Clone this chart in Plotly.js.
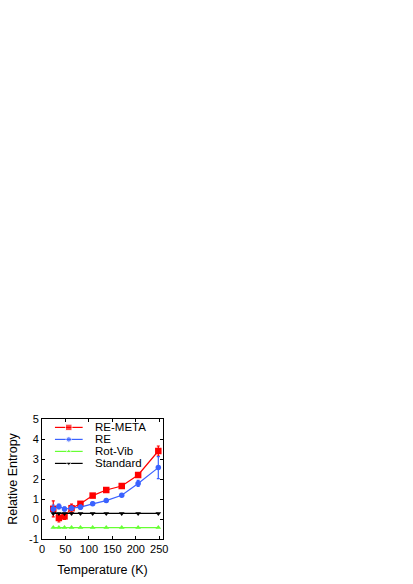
<!DOCTYPE html>
<html>
<head>
<meta charset="utf-8">
<script src="https://cdn.plot.ly/plotly-3.0.1.min.js"></script>
<style>html,body{margin:0;padding:0;background:#fff;}#chart{width:413px;height:584px;}</style>
</head>
<body>
<div id="chart"></div>
<script>
// ---- data ----
const temperature = [24, 36, 48, 63, 82, 108, 137, 170, 205, 248];
const reMeta      = [0.51, 0.05, 0.13, 0.54, 0.76, 1.17, 1.45, 1.65, 2.20, 3.40];
const reMetaErr   = [0.40, 0.20, 0.15, 0.20, 0.08, 0.05, 0.05, 0.05, 0.10, 0.25];
const re          = [0.50, 0.63, 0.50, 0.54, 0.59, 0.76, 0.92, 1.19, 1.78, 2.57];
const reErr       = [0.20, 0.12, 0.10, 0.10, 0.10, 0.08, 0.06, 0.06, 0.15, 0.55];
const rotVib      = [-0.43, -0.43, -0.43, -0.43, -0.43, -0.43, -0.43, -0.43, -0.43, -0.43];
const standard    = [0.28, 0.28, 0.28, 0.28, 0.28, 0.28, 0.28, 0.28, 0.28, 0.28];
const seriesNames = ['RE-META', 'RE', 'Rot-Vib', 'Standard'];
const xTicks = [0, 50, 100, 150, 200, 250];
const yTicks = [-1, 0, 1, 2, 3, 4, 5];

// ---- styles ----
const colors  = ['#ff0000', '#3a62ff', '#66ff33', '#000000'];
const symbols = ['square', 'circle', 'triangle-up', 'triangle-down'];
const sizes   = [6.5, 5.5, 5, 5];
const FONT = 'Liberation Sans, Arial, sans-serif';

function series(i, y, err) {
  const t = {
    x: temperature, y: y, type: 'scatter', mode: 'lines+markers',
    name: seriesNames[i], showlegend: false, cliponaxis: false,
    line: {color: colors[i], width: 1.2},
    marker: {color: colors[i], symbol: symbols[i], size: sizes[i]}
  };
  if (err) t.error_y = {type: 'data', array: err, visible: true, color: colors[i], thickness: 1.2, width: 1.5};
  return t;
}

const traces = [
  series(0, reMeta, reMetaErr),
  series(1, re, reErr),
  series(2, rotVib),
  series(3, standard)
];

// ---- hand-built legend (compact rows like the reference) ----
const legX = [0.107, 0.221, 0.336];
const legTextX = 0.43;
const legRows = [0.93, 0.83, 0.73, 0.63];
const annotations = [];
seriesNames.forEach((n, i) => {
  traces.push({
    x: legX, y: [legRows[i], legRows[i], legRows[i]], xaxis: 'x2', yaxis: 'y2',
    type: 'scatter', mode: 'lines+markers', showlegend: false, hoverinfo: 'skip',
    line: {color: colors[i], width: 1.2},
    marker: {color: colors[i], symbol: symbols[i], size: [0, sizes[i], 0]}
  });
  annotations.push({
    text: n, xref: 'paper', yref: 'paper', x: legTextX, y: legRows[i],
    xanchor: 'left', yanchor: 'middle', showarrow: false, borderpad: 0,
    font: {family: FONT, size: 11.5, color: '#000'}
  });
});

const axisCommon = {
  showgrid: false, zeroline: false, showline: true, linecolor: '#000', linewidth: 1,
  mirror: 'allticks', ticks: 'inside', ticklen: 3, tickwidth: 1, tickcolor: '#000',
  tickfont: {family: FONT, size: 11, color: '#000'}
};

const layout = {
  width: 413, height: 584,
  margin: {l: 42, r: 250, t: 419, b: 45, pad: 0},
  paper_bgcolor: '#fff', plot_bgcolor: '#fff',
  showlegend: false,
  font: {family: FONT, color: '#000'},
  xaxis: Object.assign({}, axisCommon, {
    range: [0, 258], tickvals: xTicks, ticktext: xTicks.map(String),
    title: {text: 'Temperature (K)', font: {family: FONT, size: 12.5, color: '#000'}, standoff: 11}
  }),
  yaxis: Object.assign({}, axisCommon, {
    range: [-1, 5], tickvals: yTicks, ticktext: yTicks.map(String),
    title: {text: 'Relative Entropy', font: {family: FONT, size: 12.5, color: '#000'}, standoff: 8}
  }),
  xaxis2: {overlaying: 'x', range: [0, 1], visible: false, fixedrange: true},
  yaxis2: {overlaying: 'y', range: [0, 1], visible: false, fixedrange: true},
  annotations: annotations
};

Plotly.newPlot('chart', traces, layout, {displayModeBar: false, staticPlot: true});
</script>
</body>
</html>
